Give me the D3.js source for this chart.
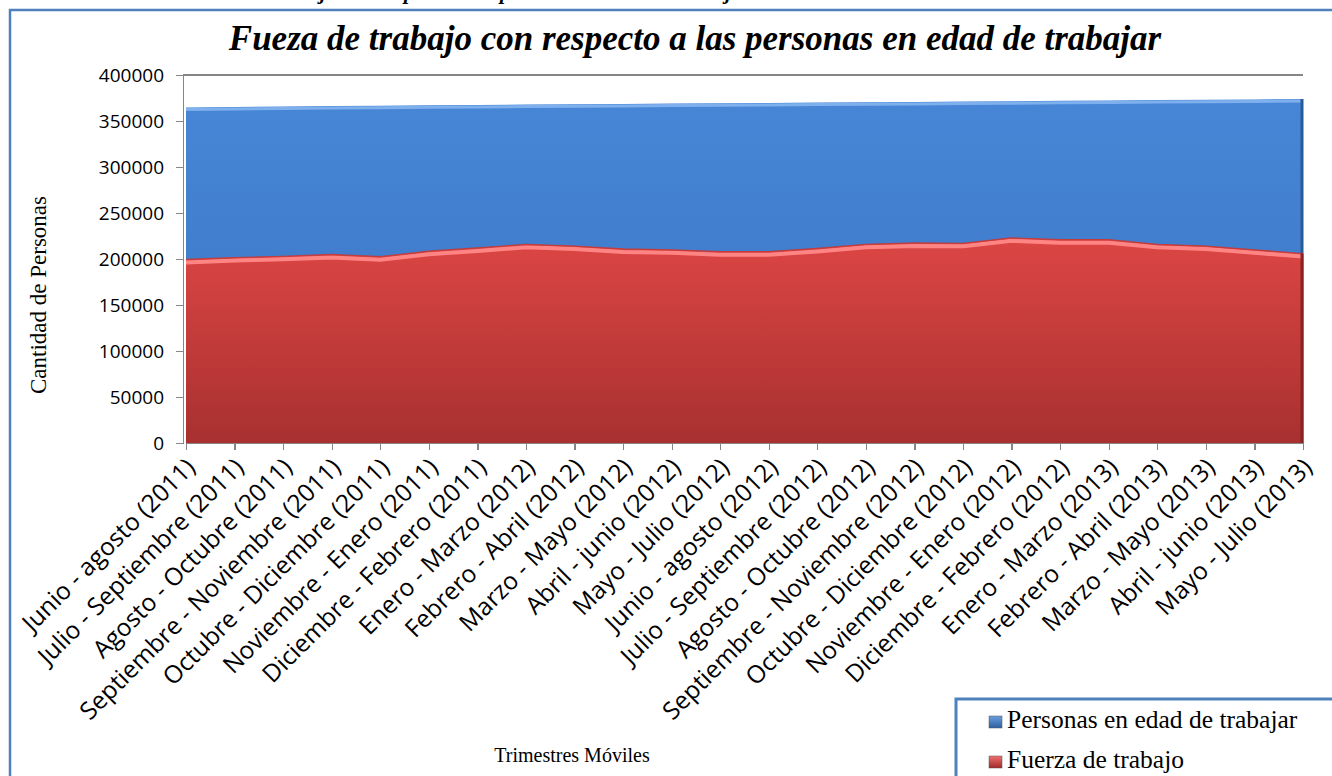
<!DOCTYPE html>
<html>
<head>
    <meta charset="utf-8">
    <title>Fueza de trabajo</title>
    <style>
        body { margin: 0; background: #fff; overflow: hidden; }
        .axis path, .axis line { fill: none; stroke: #868686; stroke-width: 1.3px; shape-rendering: crispEdges; }
        .axis text { font-family: "Open Sans", "Liberation Sans", sans-serif; font-size: 19px; fill: #000; }
        .x.axis text { font-size: 24.5px; }
        .serif { font-family: "Liberation Serif", "DejaVu Serif", serif; }
    </style>
    <script src="https://d3js.org/d3.v7.min.js"></script>
</head>
<body>
<script>
    // Trimestres móviles (categorías del eje X)
    var trimestres = [
        "Junio - agosto (2011)", "Julio - Septiembre (2011)", "Agosto - Octubre (2011)",
        "Septiembre - Noviembre (2011)", "Octubre - Diciembre (2011)", "Noviembre - Enero (2011)",
        "Diciembre - Febrero (2011)", "Enero - Marzo (2012)", "Febrero - Abril (2012)",
        "Marzo - Mayo (2012)", "Abril - junio (2012)", "Mayo - Julio (2012)",
        "Junio - agosto (2012)", "Julio - Septiembre (2012)", "Agosto - Octubre (2012)",
        "Septiembre - Noviembre (2012)", "Octubre - Diciembre (2012)", "Noviembre - Enero (2012)",
        "Diciembre - Febrero (2012)", "Enero - Marzo (2013)", "Febrero - Abril (2013)",
        "Marzo - Mayo (2013)", "Abril - junio (2013)", "Mayo - Julio (2013)"
    ];
    // valores
    var personasEdadTrabajar = [
        364800, 365300, 365700, 366200, 366600, 367000, 367400, 367800, 368200,
        368500, 368900, 369300, 369600, 370000, 370400, 370700, 371100, 371500,
        371900, 372300, 372700, 373100, 373500, 374000
    ];
    var fuerzaTrabajo = [
        199500, 201500, 203000, 205000, 202500, 208500, 212000, 216000, 214000,
        211000, 210000, 208000, 208000, 211500, 216000, 217500, 217000, 223000,
        221000, 221000, 216000, 214000, 210000, 206000
    ];
    var yTicks = [0, 50000, 100000, 150000, 200000, 250000, 300000, 350000, 400000];

    var W = 1332, H = 776;
    var svg = d3.select("body").append("svg")
        .attr("width", W)
        .attr("height", H);

    var defs = svg.append("defs");
    function grad(id, stops) {
        var g = defs.append("linearGradient").attr("id", id)
            .attr("x1", 0).attr("y1", 0).attr("x2", 0).attr("y2", 1);
        stops.forEach(function(s) {
            g.append("stop").attr("offset", s[0]).attr("stop-color", s[1]);
        });
    }
    grad("gBlue", [["0%", "#4786d6"], ["100%", "#3a74c2"]]);
    grad("gRed", [["0%", "#dc4644"], ["100%", "#a83030"]]);
    grad("gBlueSq", [["0%", "#6a9fe0"], ["100%", "#2f5f9e"]]);
    grad("gRedSq", [["0%", "#f07070"], ["100%", "#a02828"]]);

    // chart border
    svg.append("rect")
        .attr("x", 10).attr("y", 10)
        .attr("width", W + 20).attr("height", H + 20)
        .attr("fill", "none")
        .attr("stroke", "#4f81bd")
        .attr("stroke-width", 2.5);

    // caption above the chart, cut off by the page edge as in the original
    svg.append("text")
        .attr("class", "serif")
        .attr("x", 466).attr("y", -1)
        .attr("text-anchor", "middle")
        .style("font-size", "21px")
        .style("font-weight", "bold")
        .style("font-style", "italic")
        .text("Fuerza de trabajo con respecto a las personas en edad de trabajar");

    var x = d3.scalePoint().domain(trimestres).range([186, 1303]);
    var y = d3.scaleLinear().domain([0, 400000]).range([443, 75]);

    // top gridline
    svg.append("line")
        .attr("x1", 183).attr("x2", 1303)
        .attr("y1", y(400000)).attr("y2", y(400000))
        .attr("stroke", "#868686").attr("stroke-width", 1.3)
        .style("shape-rendering", "crispEdges");

    var areaP = d3.area()
        .x(function(d, i) { return x(trimestres[i]); })
        .y0(y(0))
        .y1(function(d) { return y(d); });
    var lineP = d3.line()
        .x(function(d, i) { return x(trimestres[i]); })
        .y(function(d) { return y(d); });

    // Personas en edad de trabajar (detrás)
    svg.append("path")
        .datum(personasEdadTrabajar)
        .attr("d", areaP)
        .attr("fill", "url(#gBlue)");
    svg.append("path")
        .datum(personasEdadTrabajar)
        .attr("d", lineP)
        .attr("fill", "none")
        .attr("stroke", "#7fb0ee")
        .attr("stroke-width", 3)
        .attr("transform", "translate(0,2)");
    svg.append("line")
        .attr("x1", x(trimestres[trimestres.length - 1]) - 1)
        .attr("x2", x(trimestres[trimestres.length - 1]) - 1)
        .attr("y1", y(personasEdadTrabajar[personasEdadTrabajar.length - 1]))
        .attr("y2", y(0))
        .attr("stroke", "#2b5a98")
        .attr("stroke-width", 3);

    // Fuerza de trabajo (delante)
    svg.append("path")
        .datum(fuerzaTrabajo)
        .attr("d", areaP)
        .attr("fill", "url(#gRed)");
    svg.append("path")
        .datum(fuerzaTrabajo)
        .attr("d", lineP)
        .attr("fill", "none")
        .attr("stroke", "#ff8585")
        .attr("stroke-width", 4)
        .attr("transform", "translate(0,3)");
    svg.append("path")
        .datum(fuerzaTrabajo)
        .attr("d", lineP)
        .attr("fill", "none")
        .attr("stroke", "#c23c3c")
        .attr("stroke-width", 1.2);
    svg.append("line")
        .attr("x1", x(trimestres[trimestres.length - 1]) - 1)
        .attr("x2", x(trimestres[trimestres.length - 1]) - 1)
        .attr("y1", y(fuerzaTrabajo[fuerzaTrabajo.length - 1]))
        .attr("y2", y(0))
        .attr("stroke", "#8a2222")
        .attr("stroke-width", 3);

    // axes
    var yAxis = d3.axisLeft(y)
        .tickValues(yTicks)
        .tickSize(7)
        .tickPadding(12)
        .tickFormat(d3.format("d"));
    svg.append("g")
        .attr("class", "y axis")
        .attr("transform", "translate(183,0)")
        .call(yAxis);

    var xAxis = d3.axisBottom(x).tickSize(7).tickSizeOuter(0);
    var gx = svg.append("g")
        .attr("class", "x axis")
        .attr("transform", "translate(0," + y(0) + ")")
        .call(xAxis);
    gx.selectAll("text")
        .attr("text-anchor", "end")
        .attr("dx", 0).attr("dy", 0)
        .attr("x", 10).attr("y", 26)
        .attr("transform", "rotate(-45, 10, 26)");

    // axis titles
    svg.append("text")
        .attr("class", "serif")
        .attr("transform", "translate(46,295) rotate(-90)")
        .attr("text-anchor", "middle")
        .style("font-size", "23px")
        .text("Cantidad de Personas");
    svg.append("text")
        .attr("class", "serif")
        .attr("x", 572).attr("y", 762)
        .attr("text-anchor", "middle")
        .style("font-size", "20px")
        .text("Trimestres Móviles");

    // title
    svg.append("text")
        .attr("class", "serif")
        .attr("x", 695).attr("y", 50)
        .attr("text-anchor", "middle")
        .style("font-size", "35px")
        .style("font-weight", "bold")
        .style("font-style", "italic")
        .text("Fueza de trabajo con respecto a las personas en edad de trabajar");

    // legend
    var series = ["Personas en edad de trabajar", "Fuerza de trabajo"];
    var swatch = ["url(#gBlueSq)", "url(#gRedSq)"];
    svg.append("rect")
        .attr("x", 956).attr("y", 699)
        .attr("width", 420).attr("height", 120)
        .attr("fill", "#fff")
        .attr("stroke", "#4f81bd")
        .attr("stroke-width", 3);
    var lg = svg.selectAll(".leg").data(series).enter().append("g")
        .attr("class", "leg")
        .attr("transform", function(d, i) { return "translate(989," + (728 + i * 40) + ")"; });
    lg.append("rect")
        .attr("x", 0).attr("y", -12)
        .attr("width", 13).attr("height", 12)
        .attr("fill", function(d, i) { return swatch[i]; })
        .attr("stroke", "#555").attr("stroke-width", 0.5);
    lg.append("text")
        .attr("class", "serif")
        .attr("x", 18).attr("y", 0)
        .style("font-size", "25.5px")
        .text(function(d) { return d; });
</script>
</body>
</html>
